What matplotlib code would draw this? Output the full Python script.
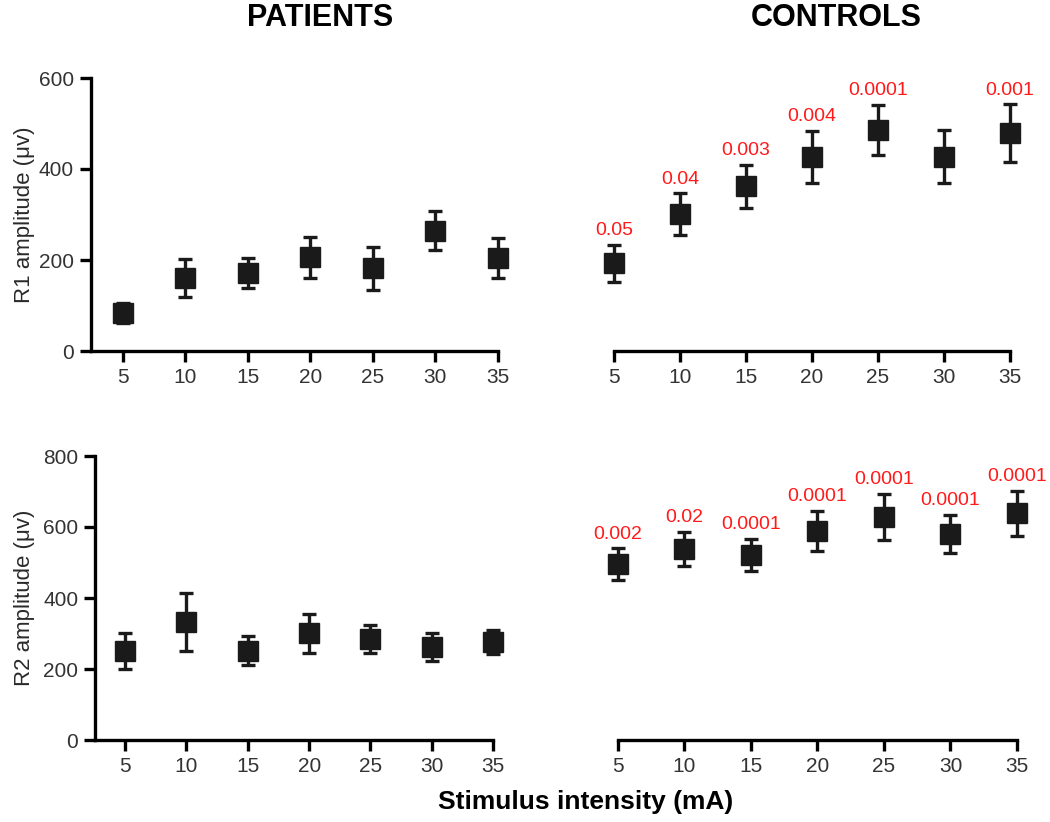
import matplotlib.pyplot as plt

plt.rcParams['font.family'] = ['Liberation Sans', 'DejaVu Sans']

intensity = [5, 10, 15, 20, 25, 30, 35]

# R1 amplitude (mean, error)
r1_patients = [83, 160, 171, 206, 182, 264, 204]
r1_patients_err = [22, 42, 33, 45, 47, 43, 44]
r1_controls = [193, 301, 362, 427, 486, 427, 479]
r1_controls_err = [41, 46, 47, 57, 55, 58, 63]
r1_pvalues = ['0.05', '0.04', '0.003', '0.004', '0.0001', '', '0.001']

# R2 amplitude (mean, error)
r2_patients = [251, 332, 251, 301, 284, 262, 276]
r2_patients_err = [50, 82, 41, 55, 40, 40, 35]
r2_controls = [496, 538, 521, 589, 628, 580, 639]
r2_controls_err = [44, 48, 46, 56, 65, 54, 63]
r2_pvalues = ['0.002', '0.02', '0.0001', '0.0001', '0.0001', '0.0001', '0.0001']

W, H = 1050, 822
fig = plt.figure(figsize=(W / 100, H / 100), dpi=100)


def px_axes(left, right, top, bottom):
    """Create axes from pixel coordinates."""
    return fig.add_axes([left / W, 1 - bottom / H, (right - left) / W, (bottom - top) / H])


def draw_panel(ax, means, errs, ylim, yticks, xlim, show_y, pvals=None):
    ax.errorbar(intensity, means, yerr=errs, fmt='s', color='#1a1a1a', ecolor='#1a1a1a',
                markersize=15, elinewidth=2.4, capsize=5, capthick=2.4, clip_on=False, zorder=3)
    ax.set_xlim(*xlim)
    ax.set_ylim(*ylim)
    ax.set_xticks(intensity)
    ax.spines['top'].set_visible(False)
    ax.spines['right'].set_visible(False)
    ax.tick_params(direction='out', length=8, width=2.4, labelsize=15, labelcolor='#333333', pad=4)
    ax.spines['bottom'].set_linewidth(2.4)
    if show_y:
        ax.spines['left'].set_linewidth(2.4)
        ax.spines['bottom'].set_bounds(xlim[0], 35)
        ax.set_yticks(yticks)
    else:
        ax.spines['left'].set_visible(False)
        ax.spines['bottom'].set_bounds(5, 35)
        ax.set_yticks([])
    if pvals:
        for x, m, e, p in zip(intensity, means, errs, pvals):
            if p:
                ax.annotate(p, (x, m + e), xytext=(0, 4), textcoords='offset points',
                            ha='center', va='bottom', color='#ff1a1a', fontsize=14,
                            annotation_clip=False)


ax1 = px_axes(90.5, 516.5, 78, 351)
draw_panel(ax1, r1_patients, r1_patients_err, (0, 600), [0, 200, 400, 600], (2.4, 36.5), True)
ax1.set_ylabel('R1 amplitude (\u03bcv)', fontsize=16, color='#2a2a2a')
ax1.yaxis.set_label_coords(-0.130, 0.5)

ax2 = px_axes(579.7, 1029.7, 78, 351)
draw_panel(ax2, r1_controls, r1_controls_err, (0, 600), None, (2.4, 36.5), False, r1_pvalues)

ax3 = px_axes(95, 511.6, 456, 740)
draw_panel(ax3, r2_patients, r2_patients_err, (0, 800), [0, 200, 400, 600, 800], (2.55, 36.5), True)
ax3.set_ylabel('R2 amplitude (\u03bcv)', fontsize=16, color='#2a2a2a')
ax3.yaxis.set_label_coords(-0.144, 0.5)

ax4 = px_axes(585.4, 1036.9, 456, 740)
draw_panel(ax4, r2_controls, r2_controls_err, (0, 800), None, (2.55, 36.5), False, r2_pvalues)

fig.text(320 / W, 1 - 18 / H, 'PATIENTS', ha='center', va='center', fontsize=22, fontweight='bold')
fig.text(836 / W, 1 - 18 / H, 'CONTROLS', ha='center', va='center', fontsize=22, fontweight='bold')
fig.text(586 / W, 1 - 802 / H, 'Stimulus intensity (mA)', ha='center', va='center',
         fontsize=19, fontweight='bold')

fig.savefig('out.png', dpi=100)
